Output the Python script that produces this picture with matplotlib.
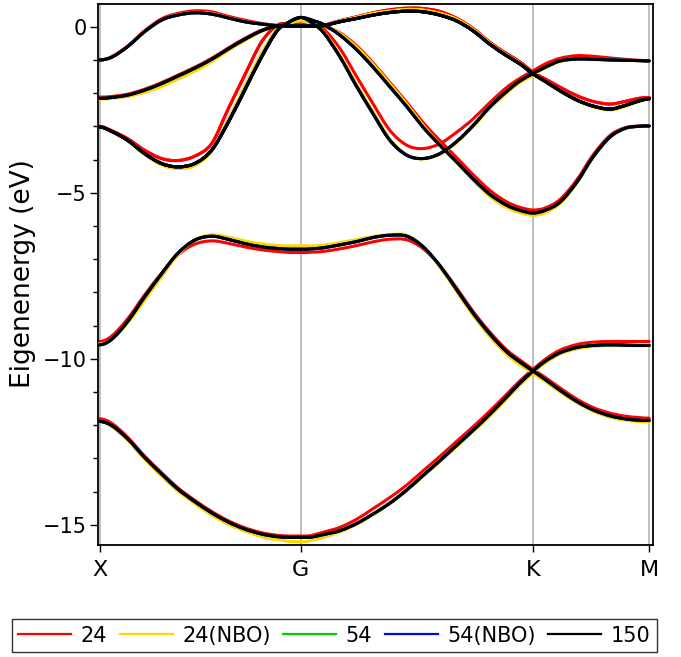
"""Band structure comparison, X-G-K-M path, five basis-set runs."""

import matplotlib
matplotlib.use("Agg")
import matplotlib.pyplot as plt
from matplotlib.path import Path
from matplotlib.patches import PathPatch
from matplotlib.ticker import MultipleLocator

# positions along the k-path (X=0, G=2.01, K=4.33, M=5.49)
kpath = [0.00, 0.12, 0.28, 0.45, 0.62, 0.78, 0.95, 1.12, 1.28, 1.45,
         1.62, 1.78, 1.90, 1.95, 2.01, 2.07, 2.12, 2.23, 2.40, 2.57,
         2.73, 2.90, 3.07, 3.23, 3.40, 3.57, 3.73, 3.90, 4.07, 4.20,
         4.33, 4.45, 4.60, 4.77, 4.93, 5.10, 5.25, 5.38, 5.49]
kticks = [0.0, 2.01, 4.33, 5.49]
klabels = ["X", "G", "K", "M"]

series_names = ["24", "24(NBO)", "54", "54(NBO)", "150"]
series_colors = ["#ff0000", "#ffd700", "#00cc00", "#0000ff", "#000000"]

# ---- 150 (black) ----
e150_b1 = [-11.89, -12.01, -12.41, -12.97, -13.47, -13.92, -14.30, -14.64, -14.91, -15.13,
           -15.28, -15.36, -15.38, -15.38, -15.38, -15.38, -15.37, -15.30, -15.18, -14.96,
           -14.68, -14.35, -13.95, -13.52, -13.07, -12.60, -12.16, -11.67, -11.14, -10.73,
           -10.37, -10.08, -9.82, -9.66, -9.60, -9.58, -9.59, -9.60, -9.60]
e150_b2 = [-9.58, -9.42, -8.88, -8.14, -7.44, -6.83, -6.43, -6.31, -6.40, -6.53,
           -6.63, -6.68, -6.70, -6.70, -6.70, -6.70, -6.69, -6.66, -6.57, -6.47,
           -6.35, -6.28, -6.31, -6.62, -7.20, -7.93, -8.62, -9.26, -9.80, -10.10,
           -10.37, -10.62, -10.95, -11.29, -11.54, -11.72, -11.81, -11.85, -11.86]
e150_b3 = [-3.02, -3.15, -3.42, -3.82, -4.12, -4.22, -4.12, -3.72, -2.91, -1.91,
           -0.90, -0.10, 0.15, 0.23, 0.28, 0.25, 0.20, 0.08, -0.25, -0.70,
           -1.21, -1.81, -2.41, -3.02, -3.57, -4.08, -4.58, -5.05, -5.38, -5.53,
           -5.61, -5.53, -5.28, -4.67, -3.92, -3.32, -3.06, -3.00, -2.99]
e150_b4 = [-3.02, -3.15, -3.42, -3.82, -4.12, -4.22, -4.12, -3.72, -2.91, -1.91,
           -0.90, -0.10, 0.15, 0.23, 0.28, 0.22, 0.12, -0.15, -0.90, -1.81,
           -2.61, -3.42, -3.87, -3.97, -3.82, -3.45, -2.98, -2.41, -1.94, -1.63,
           -1.41, -1.22, -1.03, -0.97, -0.98, -1.00, -1.01, -1.02, -1.03]
e150_b5 = [-2.16, -2.13, -2.06, -1.91, -1.71, -1.49, -1.25, -0.98, -0.68, -0.38,
           -0.12, 0.02, 0.02, 0.02, 0.02, 0.02, 0.02, 0.03, 0.15, 0.25,
           0.35, 0.43, 0.47, 0.45, 0.35, 0.17, -0.12, -0.53, -0.88, -1.12,
           -1.42, -1.64, -1.93, -2.21, -2.39, -2.48, -2.37, -2.24, -2.17]
e150_b6 = [-1.00, -0.92, -0.60, -0.15, 0.20, 0.35, 0.42, 0.38, 0.27, 0.15,
           0.08, 0.03, 0.02, 0.02, 0.02, 0.02, 0.02, 0.03, 0.15, 0.25,
           0.35, 0.43, 0.47, 0.45, 0.35, 0.17, -0.12, -0.53, -0.88, -1.12,
           -1.42, -1.64, -1.93, -2.21, -2.39, -2.48, -2.37, -2.24, -2.17]

# ---- 24 (red) ----
e24_b1 = [-11.81, -11.94, -12.36, -12.93, -13.43, -13.88, -14.26, -14.60, -14.87, -15.09,
          -15.24, -15.32, -15.34, -15.34, -15.34, -15.34, -15.32, -15.23, -15.08, -14.83,
          -14.52, -14.18, -13.80, -13.38, -12.94, -12.48, -12.05, -11.57, -11.06, -10.66,
          -10.32, -10.02, -9.74, -9.57, -9.50, -9.48, -9.48, -9.48, -9.48]
e24_b2 = [-9.48, -9.32, -8.80, -8.08, -7.42, -6.88, -6.55, -6.45, -6.52, -6.63,
          -6.72, -6.77, -6.80, -6.80, -6.80, -6.80, -6.79, -6.77, -6.69, -6.59,
          -6.48, -6.40, -6.42, -6.68, -7.20, -7.88, -8.57, -9.20, -9.74, -10.04,
          -10.32, -10.56, -10.88, -11.22, -11.47, -11.64, -11.73, -11.77, -11.79]
e24_b3 = [-3.00, -3.13, -3.37, -3.72, -3.97, -4.03, -3.90, -3.52, -2.51, -1.46,
          -0.45, 0.05, 0.10, 0.11, 0.12, 0.11, 0.08, 0.02, -0.18, -0.58,
          -1.08, -1.68, -2.28, -2.88, -3.43, -3.95, -4.45, -4.93, -5.28, -5.44,
          -5.52, -5.46, -5.20, -4.60, -3.86, -3.27, -3.04, -2.99, -2.98]
e24_b4 = [-3.00, -3.13, -3.37, -3.72, -3.97, -4.03, -3.90, -3.52, -2.51, -1.46,
          -0.45, 0.05, 0.10, 0.11, 0.12, 0.10, 0.06, -0.05, -0.65, -1.51,
          -2.31, -3.12, -3.57, -3.67, -3.52, -3.17, -2.78, -2.28, -1.82, -1.55,
          -1.33, -1.12, -0.95, -0.87, -0.89, -0.94, -0.98, -1.01, -1.02]
e24_b5 = [-2.12, -2.10, -2.03, -1.88, -1.68, -1.46, -1.22, -0.95, -0.65, -0.35,
          -0.10, 0.03, 0.02, 0.02, 0.02, 0.02, 0.02, 0.04, 0.18, 0.30,
          0.42, 0.51, 0.56, 0.55, 0.46, 0.25, -0.05, -0.47, -0.82, -1.06,
          -1.37, -1.57, -1.82, -2.08, -2.25, -2.33, -2.25, -2.16, -2.13]
e24_b6 = [-1.00, -0.90, -0.58, -0.12, 0.24, 0.40, 0.48, 0.45, 0.32, 0.20,
          0.10, 0.04, 0.02, 0.02, 0.02, 0.02, 0.02, 0.04, 0.18, 0.30,
          0.42, 0.51, 0.56, 0.55, 0.46, 0.25, -0.05, -0.47, -0.82, -1.06,
          -1.37, -1.57, -1.82, -2.08, -2.25, -2.33, -2.25, -2.16, -2.13]

# ---- 24(NBO) (yellow) ----
e24nbo_b1 = [-11.89, -12.04, -12.46, -13.03, -13.54, -13.98, -14.36, -14.71, -14.98, -15.19,
             -15.36, -15.45, -15.50, -15.51, -15.51, -15.50, -15.47, -15.38, -15.22, -14.99,
             -14.70, -14.37, -13.97, -13.55, -13.10, -12.64, -12.20, -11.72, -11.20, -10.79,
             -10.43, -10.13, -9.86, -9.70, -9.63, -9.61, -9.61, -9.61, -9.61]
e24nbo_b2 = [-9.55, -9.42, -8.93, -8.24, -7.53, -6.88, -6.42, -6.27, -6.33, -6.45,
             -6.54, -6.59, -6.60, -6.60, -6.60, -6.60, -6.60, -6.58, -6.50, -6.41,
             -6.32, -6.26, -6.28, -6.62, -7.24, -7.99, -8.69, -9.34, -9.88, -10.18,
             -10.44, -10.68, -11.00, -11.33, -11.58, -11.76, -11.85, -11.89, -11.90]
e24nbo_b3 = [-3.02, -3.16, -3.43, -3.84, -4.16, -4.27, -4.18, -3.74, -2.84, -1.80,
             -0.80, -0.06, 0.10, 0.16, 0.18, 0.16, 0.12, 0.05, -0.20, -0.62,
             -1.12, -1.72, -2.33, -2.96, -3.55, -4.10, -4.62, -5.12, -5.45, -5.60,
             -5.68, -5.60, -5.33, -4.70, -3.94, -3.33, -3.07, -3.00, -2.99]
e24nbo_b4 = [-3.02, -3.16, -3.43, -3.84, -4.16, -4.27, -4.18, -3.74, -2.84, -1.80,
             -0.80, -0.06, 0.10, 0.16, 0.18, 0.14, 0.08, -0.12, -0.85, -1.74,
             -2.55, -3.38, -3.86, -3.98, -3.84, -3.48, -3.02, -2.46, -1.99, -1.68,
             -1.46, -1.25, -1.05, -0.98, -0.99, -1.00, -1.01, -1.02, -1.03]
e24nbo_b5 = [-2.18, -2.16, -2.10, -1.98, -1.80, -1.58, -1.34, -1.05, -0.73, -0.42,
             -0.14, 0.02, 0.02, 0.02, 0.02, 0.02, 0.02, 0.03, 0.16, 0.28,
             0.40, 0.47, 0.52, 0.50, 0.40, 0.22, -0.08, -0.50, -0.86, -1.10,
             -1.43, -1.65, -1.94, -2.22, -2.41, -2.50, -2.40, -2.26, -2.19]
e24nbo_b6 = [-1.00, -0.92, -0.60, -0.15, 0.20, 0.36, 0.43, 0.40, 0.28, 0.16,
             0.08, 0.03, 0.02, 0.02, 0.02, 0.02, 0.02, 0.03, 0.16, 0.28,
             0.40, 0.47, 0.52, 0.50, 0.40, 0.22, -0.08, -0.50, -0.86, -1.10,
             -1.43, -1.65, -1.94, -2.22, -2.41, -2.50, -2.40, -2.26, -2.19]

# 54 and 54(NBO) lie on the 150 curves at this resolution
e54_bands = [e150_b1, e150_b2, e150_b3, e150_b4, e150_b5, e150_b6]
e54nbo_bands = [e150_b1, e150_b2, e150_b3, e150_b4, e150_b5, e150_b6]

all_bands = [
    [e24_b1, e24_b2, e24_b3, e24_b4, e24_b5, e24_b6],
    [e24nbo_b1, e24nbo_b2, e24nbo_b3, e24nbo_b4, e24nbo_b5, e24nbo_b6],
    e54_bands,
    e54nbo_bands,
    [e150_b1, e150_b2, e150_b3, e150_b4, e150_b5, e150_b6],
]


def smooth_band_path(x, y):
    """Cubic Bezier path through the sampled points (flat at X and M)."""
    n = len(x)
    slopes = [0.0] * n
    for i in range(1, n - 1):
        slopes[i] = (y[i + 1] - y[i - 1]) / (x[i + 1] - x[i - 1])
    verts = [(x[0], y[0])]
    codes = [Path.MOVETO]
    for i in range(n - 1):
        h = (x[i + 1] - x[i]) / 3.0
        verts += [(x[i] + h, y[i] + slopes[i] * h),
                  (x[i + 1] - h, y[i + 1] - slopes[i + 1] * h),
                  (x[i + 1], y[i + 1])]
        codes += [Path.CURVE4] * 3
    return Path(verts, codes)


fig = plt.figure(figsize=(6.81, 6.57), dpi=100)
ax = fig.add_axes([0.1432, 0.1705, 0.8152, 0.8234])

for k in kticks:
    ax.axvline(k, color="#b4b4b4", lw=1.2, zorder=0)

handles = []
for i, (name, color, bands) in enumerate(zip(series_names, series_colors, all_bands)):
    for band in bands:
        patch = PathPatch(smooth_band_path(kpath, band), facecolor="none",
                          edgecolor=color, lw=2.2, zorder=2 + i,
                          joinstyle="round", capstyle="round")
        ax.add_patch(patch)
    handles.append(plt.Line2D([], [], color=color, lw=1.6, label=name))

ax.set_xlim(-0.02, 5.525)
ax.set_ylim(-15.61, 0.685)

ax.set_xticks(kticks)
ax.set_xticklabels(klabels)
ax.set_yticks([0, -5, -10, -15])
ax.yaxis.set_minor_locator(MultipleLocator(1))

ax.tick_params(axis="x", direction="out", length=5, width=1, labelsize=16, pad=6)
ax.tick_params(axis="y", which="major", direction="out", length=6, width=1,
               labelsize=15, pad=2)
ax.tick_params(axis="y", which="minor", direction="out", length=3.5, width=1)

for side in ax.spines.values():
    side.set_linewidth(1.3)
    side.set_color("black")

fig.text(23.5 / 681, 0.583, "Eigenenergy (eV)", rotation=90,
         ha="center", va="center", fontsize=19)

leg = fig.legend(handles=handles, loc="center", bbox_to_anchor=(0.491, 0.0327),
                 ncol=5, frameon=True, fancybox=False, edgecolor="black",
                 fontsize=15, handlelength=2.55, handletextpad=0.45,
                 columnspacing=0.6, borderpad=0.3, borderaxespad=0)
leg.get_frame().set_linewidth(1.0)

fig.savefig("out.png", dpi=100)
